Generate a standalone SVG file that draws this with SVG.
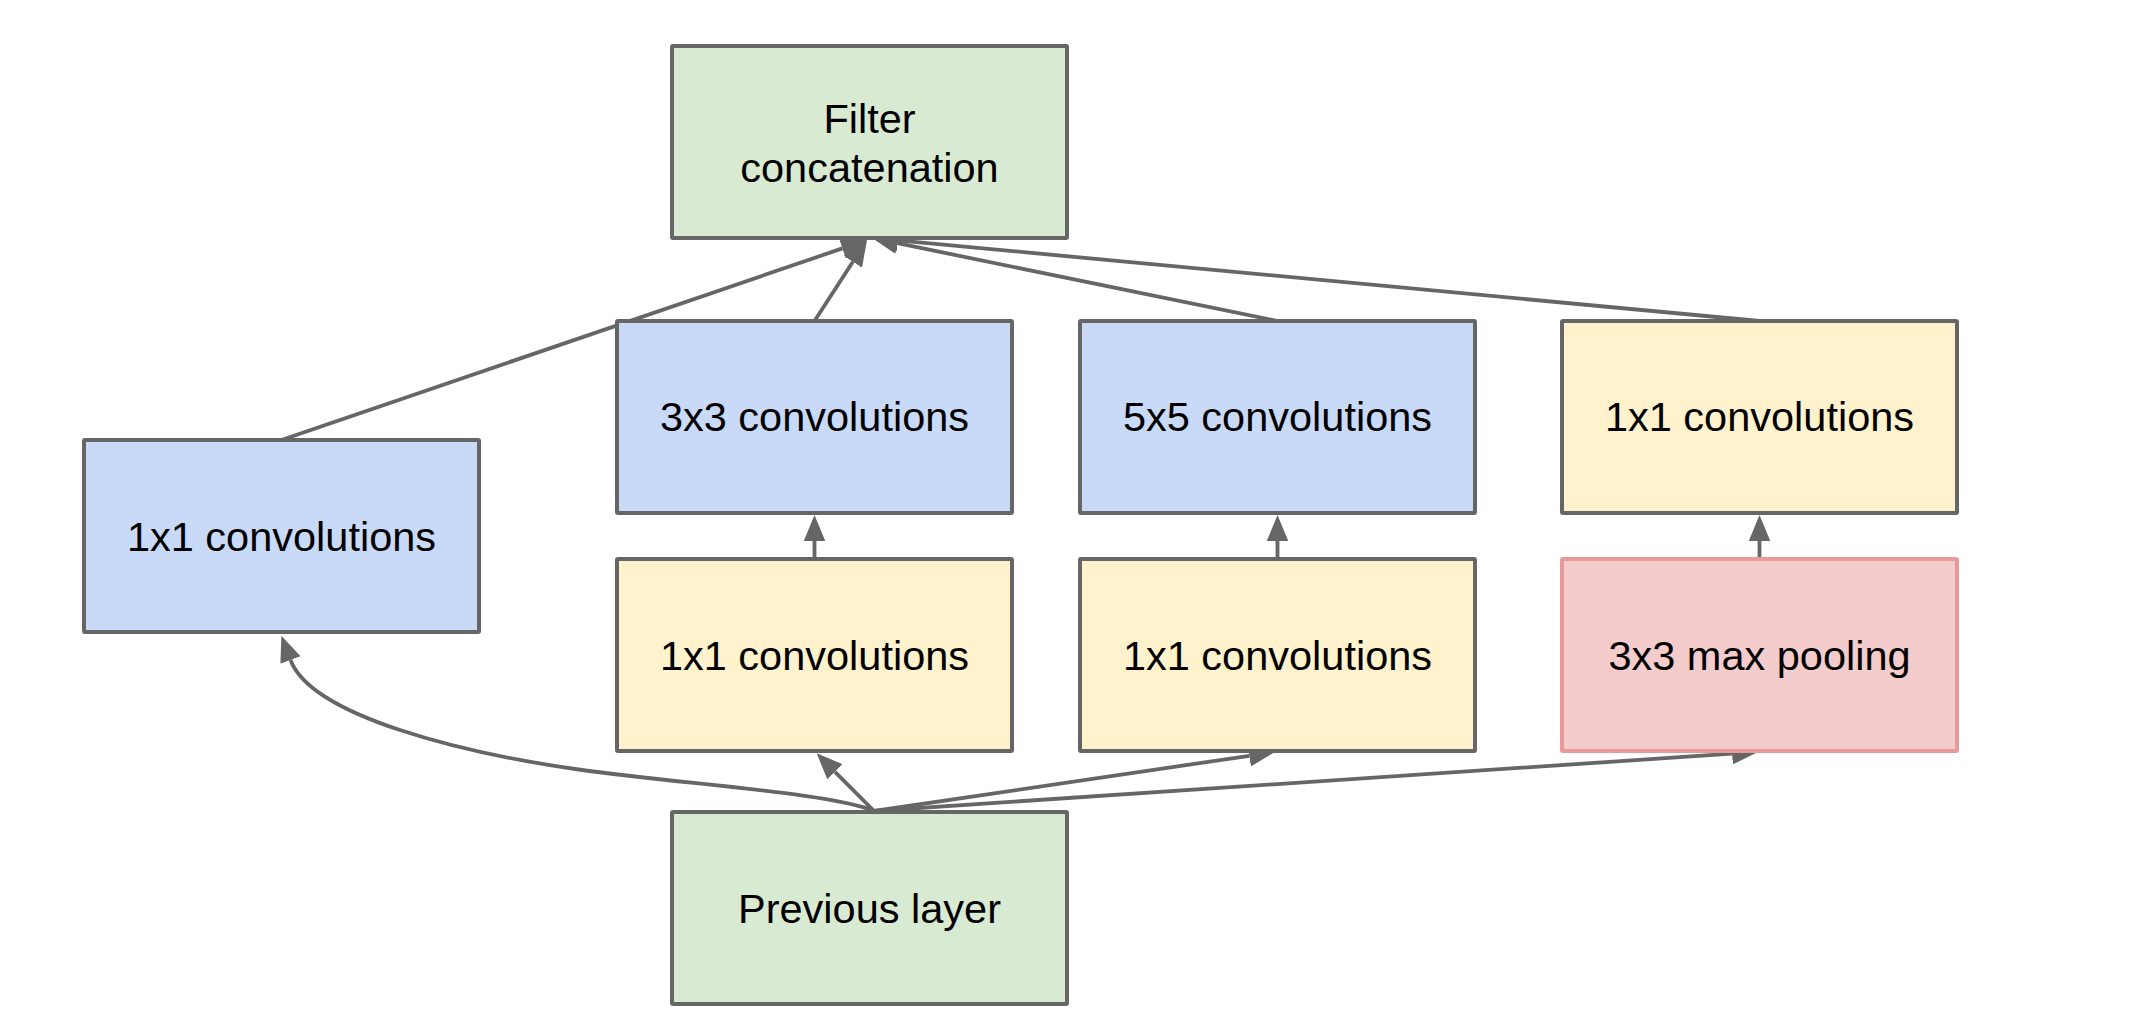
<svg xmlns="http://www.w3.org/2000/svg" width="2142" height="1023" viewBox="0 0 2142 1023">
<defs>
<style>
.box{stroke:#666666;stroke-width:4}
.blue{fill:#c9daf8}
.yellow{fill:#fff2cc}
.green{fill:#d9ead3}
.pink{fill:#f4cccc;stroke:#ea9999}
.lbl{font-family:"Liberation Sans",Arial,sans-serif;font-size:41.5px;fill:#000000;text-anchor:middle}
.edge{fill:none;stroke:#666666;stroke-width:3.8}
</style>
<marker id="arr" markerUnits="userSpaceOnUse" markerWidth="30" markerHeight="24" refX="0" refY="10.75" orient="auto">
<path d="M0,0 L26,10.75 L0,21.5 z" fill="#666666"/>
</marker>
</defs>
<rect width="2142" height="1023" fill="#ffffff"/>

<g id="connectors">
<path class="edge" d="M281.5,440 L842.4,248.4" marker-end="url(#arr)"/>
<path class="edge" d="M814.5,321 L852.9,261.8" marker-end="url(#arr)"/>
<path class="edge" d="M1277.5,321 L897.5,243.2" marker-end="url(#arr)"/>
<path class="edge" d="M1759.5,321 L897.9,240.4" marker-end="url(#arr)"/>
<path class="edge" d="M814.5,559 L814.5,541" marker-end="url(#arr)"/>
<path class="edge" d="M1277.5,559 L1277.5,541" marker-end="url(#arr)"/>
<path class="edge" d="M1759.5,559 L1759.5,541" marker-end="url(#arr)"/>
<path class="edge" d="M874,811 L835,771.8" marker-end="url(#arr)"/>
<path class="edge" d="M874,811 L1249.3,755.8" marker-end="url(#arr)"/>
<path class="edge" d="M874,811 L1732.1,753.7" marker-end="url(#arr)"/>
<path class="edge" d="M874,811 C834,793 682,784 582,770 C462,753.2 311.6,716.2 290.5,660" marker-end="url(#arr)"/>
</g>

<g id="filter">
<rect class="box green" x="672" y="46" width="395" height="192" rx="1"/>
<text class="lbl" x="869.5" y="132.5">Filter</text>
<text class="lbl" x="869.5" y="181.5">concatenation</text>
</g>
<g id="conv1x1_left">
<rect class="box blue" x="84" y="440" width="395" height="192" rx="1"/>
<text class="lbl" x="281.5" y="550.5">1x1 convolutions</text>
</g>
<g id="conv3x3">
<rect class="box blue" x="617" y="321" width="395" height="192" rx="1"/>
<text class="lbl" x="814.5" y="431">3x3 convolutions</text>
</g>
<g id="conv5x5">
<rect class="box blue" x="1080" y="321" width="395" height="192" rx="1"/>
<text class="lbl" x="1277.5" y="431">5x5 convolutions</text>
</g>
<g id="conv1x1_right">
<rect class="box yellow" x="1562" y="321" width="395" height="192" rx="1"/>
<text class="lbl" x="1759.5" y="431">1x1 convolutions</text>
</g>
<g id="reduce3x3">
<rect class="box yellow" x="617" y="559" width="395" height="192" rx="1"/>
<text class="lbl" x="814.5" y="670">1x1 convolutions</text>
</g>
<g id="reduce5x5">
<rect class="box yellow" x="1080" y="559" width="395" height="192" rx="1"/>
<text class="lbl" x="1277.5" y="670">1x1 convolutions</text>
</g>
<g id="maxpool">
<rect class="box pink" x="1562" y="559" width="395" height="192" rx="1"/>
<text class="lbl" x="1759.5" y="670">3x3 max pooling</text>
</g>
<g id="previous">
<rect class="box green" x="672" y="812" width="395" height="192" rx="1"/>
<text class="lbl" x="869.5" y="923">Previous layer</text>
</g>
</svg>
